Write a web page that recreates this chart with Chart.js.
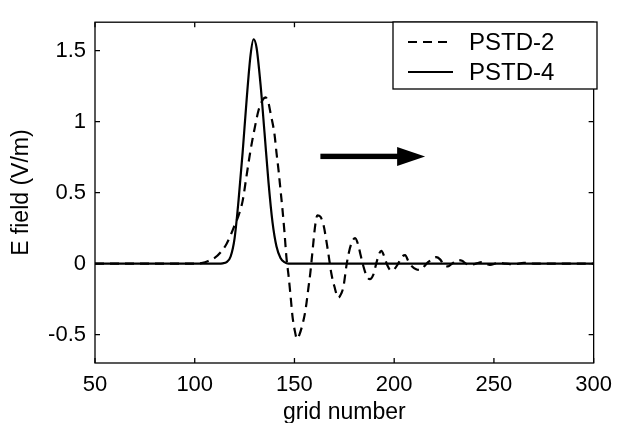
<!DOCTYPE html>
<html>
<head>
<meta charset="utf-8">
<script src="https://cdn.jsdelivr.net/npm/chart.js@4.4.0/dist/chart.umd.min.js"></script>
<style>
  html, body { margin: 0; padding: 0; background: #fff; }
</style>
</head>
<body>
<canvas id="chart" width="621" height="423"></canvas>
<script>
// Axis ticks
const xTicks = [50, 100, 150, 200, 250, 300];
const yTicks = [-0.5, 0, 0.5, 1, 1.5];

// PSTD-4 (solid)
const pstd4X = [50, 112, 114, 116, 118, 120, 122, 124, 126, 128, 129.5, 131, 133, 135, 137, 139, 141, 143, 145, 147, 300];
const pstd4Y = [0, 0, 0.002, 0.01, 0.05, 0.18, 0.45, 0.78, 1.15, 1.47, 1.58, 1.52, 1.26, 0.92, 0.57, 0.29, 0.12, 0.04, 0.01, 0, 0];

// PSTD-2 (dashed)
const pstd2X = [50, 100, 104, 107, 110, 113, 116, 118, 120, 122, 124, 126, 128, 130, 132, 134, 135.5, 137, 138, 140, 141, 142, 143, 144, 145, 146, 147, 148, 149, 150, 151.3, 152.5, 154, 155.5, 157, 158, 159, 160.5, 161.5, 163, 164.6, 166, 167, 168.5, 170, 172, 173.5, 174.6, 176, 177, 178.5, 180.4, 182, 183, 184.2, 186, 187.8, 189.5, 191, 192.5, 193.6, 195, 196.5, 198.5, 200, 202, 204, 205.5, 207, 209, 211, 213, 215, 217, 219, 221, 223, 225, 227, 229, 232, 234, 236, 238, 241, 244, 248, 252, 256, 260, 265, 270, 300];
const pstd2Y = [0, 0, 0.005, 0.02, 0.04, 0.08, 0.14, 0.2, 0.27, 0.34, 0.44, 0.62, 0.8, 0.95, 1.08, 1.15, 1.17, 1.13, 1.06, 0.91, 0.78, 0.66, 0.52, 0.38, 0.22, 0.04, -0.08, -0.22, -0.37, -0.46, -0.53, -0.5, -0.43, -0.33, -0.17, -0.06, 0.08, 0.28, 0.34, 0.33, 0.27, 0.16, 0.07, -0.07, -0.16, -0.24, -0.21, -0.16, -0.02, 0.06, 0.14, 0.18, 0.13, 0.07, 0, -0.08, -0.11, -0.08, 0, 0.07, 0.09, 0.05, -0.01, -0.05, -0.04, 0, 0.05, 0.06, 0.02, -0.02, -0.04, -0.045, -0.02, 0.01, 0.03, 0.045, 0.03, -0.01, -0.02, 0, 0.025, 0.02, 0, -0.01, 0, 0.01, -0.01, 0.005, 0, -0.005, 0.005, 0, 0];

// Arrow (data coords)
const arrowFrom = [163, 0.755];
const arrowTo = [215.5, 0.755];

const legendItems = ['PSTD-2', 'PSTD-4'];

function toPoints(xs, ys) {
  return xs.map((x, i) => ({ x: x, y: ys[i] }));
}

const FONT = '"Liberation Sans", Arial, Helvetica, sans-serif';
Chart.defaults.font.family = FONT;
Chart.defaults.font.size = 22;
Chart.defaults.color = '#000';

// frame, inward ticks, legend box and arrow
const decorPlugin = {
  id: 'decor',
  afterDraw(chart) {
    const ctx = chart.ctx;
    const a = chart.chartArea;
    const xs = chart.scales.x;
    const ys = chart.scales.y;
    ctx.save();
    ctx.strokeStyle = '#000';
    ctx.lineWidth = 1.3;
    ctx.strokeRect(a.left, a.top, a.right - a.left, a.bottom - a.top);

    // ticks pointing in
    const tl = 5;
    ctx.beginPath();
    xTicks.forEach(v => {
      const px = xs.getPixelForValue(v);
      ctx.moveTo(px, a.bottom); ctx.lineTo(px, a.bottom - tl);
      ctx.moveTo(px, a.top); ctx.lineTo(px, a.top + tl);
    });
    yTicks.forEach(v => {
      const py = ys.getPixelForValue(v);
      ctx.moveTo(a.left, py); ctx.lineTo(a.left + tl, py);
      ctx.moveTo(a.right, py); ctx.lineTo(a.right - tl, py);
    });
    ctx.stroke();

    // arrow
    const x0 = xs.getPixelForValue(arrowFrom[0]);
    const x1 = xs.getPixelForValue(arrowTo[0]);
    const yA = ys.getPixelForValue(arrowFrom[1]);
    const headLen = 28;
    ctx.fillStyle = '#000';
    ctx.fillRect(x0, yA - 2.7, x1 - headLen - x0 + 1, 5.4);
    ctx.beginPath();
    ctx.moveTo(x1, yA);
    ctx.lineTo(x1 - headLen, yA - 9.5);
    ctx.lineTo(x1 - headLen, yA + 9.5);
    ctx.closePath();
    ctx.fill();

    // legend
    const bx = 393, by = 22, bw = 204, bh = 67;
    ctx.fillStyle = '#fff';
    ctx.fillRect(bx, by, bw, bh);
    ctx.lineWidth = 1.3;
    ctx.strokeRect(bx, by, bw, bh);
    const rows = [42, 72];
    ctx.lineWidth = 2;
    ctx.font = '24px ' + FONT;
    ctx.fillStyle = '#000';
    ctx.textBaseline = 'middle';
    ctx.textAlign = 'left';
    rows.forEach((ry, i) => {
      ctx.setLineDash(i === 0 ? [9, 6] : []);
      ctx.beginPath();
      ctx.moveTo(408, ry);
      ctx.lineTo(453, ry);
      ctx.stroke();
      ctx.setLineDash([]);
      ctx.fillText(legendItems[i], 469, ry + 1);
    });
    ctx.restore();
  }
};

new Chart(document.getElementById('chart'), {
  type: 'line',
  data: {
    datasets: [
      {
        label: legendItems[0],
        data: toPoints(pstd2X, pstd2Y),
        borderColor: '#000',
        borderWidth: 2.2,
        borderDash: [9, 6],
        pointRadius: 0,
        cubicInterpolationMode: 'monotone',
        fill: false
      },
      {
        label: legendItems[1],
        data: toPoints(pstd4X, pstd4Y),
        borderColor: '#000',
        borderWidth: 2.2,
        pointRadius: 0,
        cubicInterpolationMode: 'monotone',
        fill: false
      }
    ]
  },
  options: {
    responsive: false,
    animation: false,
    layout: { padding: { left: 0, right: 21, top: 13, bottom: 0 } },
    plugins: {
      legend: { display: false },
      tooltip: { enabled: false }
    },
    scales: {
      x: {
        type: 'linear',
        min: 50,
        max: 300,
        afterBuildTicks: s => { s.ticks = xTicks.map(v => ({ value: v })); },
        afterFit: s => { s.height = 60; },
        grid: { display: false, drawTicks: false },
        border: { display: false },
        ticks: { padding: 9, maxRotation: 0, callback: v => String(v) },
        title: { display: true, text: 'grid number', font: { size: 23 }, padding: { top: 0, bottom: -3 } }
      },
      y: {
        type: 'linear',
        min: -0.7,
        max: 1.7,
        afterBuildTicks: s => { s.ticks = yTicks.map(v => ({ value: v })); },
        afterFit: s => { s.width = 95; },
        grid: { display: false, drawTicks: false },
        border: { display: false },
        ticks: { padding: 9, callback: v => String(v) },
        title: { display: true, text: 'E field (V/m)', font: { size: 23 }, padding: { top: 8, bottom: 0 } }
      }
    }
  },
  plugins: [decorPlugin]
});
</script>
</body>
</html>
